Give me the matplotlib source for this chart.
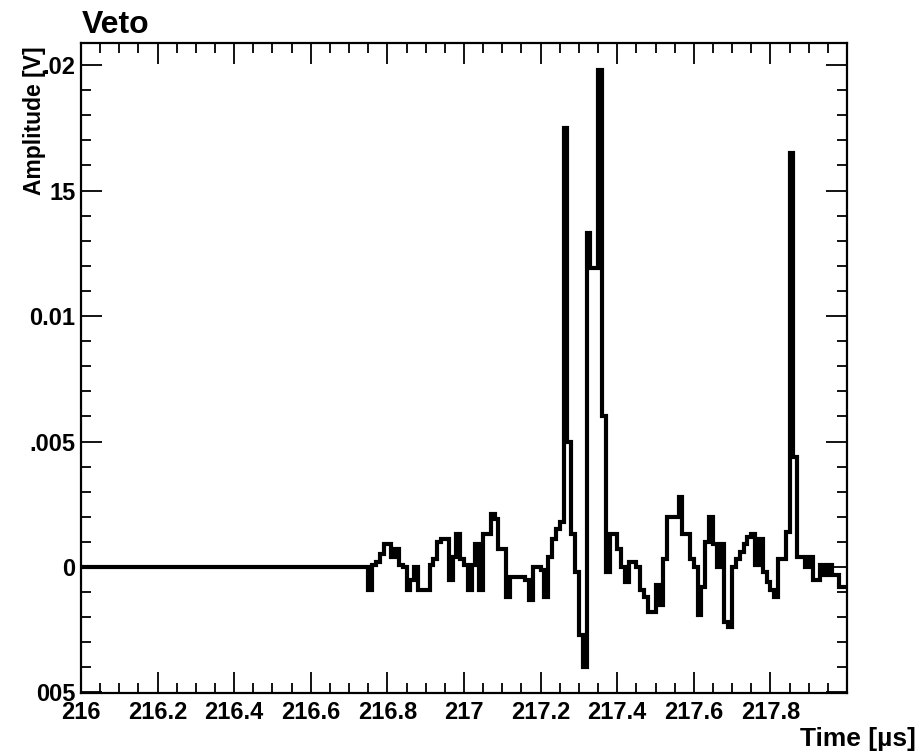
import numpy as np
import matplotlib
matplotlib.use("Agg")
import matplotlib.pyplot as plt
from matplotlib.ticker import MultipleLocator

# Veto channel trace, 0.01 us bins from 216 to 218 us
t_start, t_stop, bin_w = 216.0, 218.0, 0.01
quiet_until = 216.75   # baseline is exactly zero up to here

# amplitude [V] of each bin after quiet_until
amp = [
    -0.0009, 0.0001, 0.0002, 0.0005, 0.0009, 0.0009, 0.0004, 0.0007, 0.0001, 0.0000,
    -0.0009, -0.0005, 0.0000, -0.0009, -0.0009, -0.0009, 0.0001, 0.0003, 0.0010, 0.0011,
    0.0011, -0.0005, 0.0004, 0.0013, 0.0003, 0.0001, -0.0009, 0.0001, 0.0009, -0.0009,
    0.0013, 0.0013, 0.0021, 0.0019, 0.0007, 0.0007, -0.0012, -0.0004, -0.0004, -0.0004,
    -0.0004, -0.0005, -0.0013, 0.0000, 0.0000, -0.0001, -0.0012, 0.0004, 0.0011, 0.0015,
    0.0018, 0.0175, 0.0050, 0.0013, -0.0002, -0.0027, -0.0040, 0.0133, 0.0119, 0.0119,
    0.0198, 0.0060, -0.0002, 0.0013, 0.0013, 0.0007, 0.0000, -0.0006, 0.0002, 0.0002,
    0.0000, -0.0009, -0.0012, -0.0018, -0.0018, -0.0007, -0.0015, 0.0003, 0.0020, 0.0020,
    0.0020, 0.0028, 0.0013, 0.0013, 0.0003, 0.0000, -0.0019, -0.0008, 0.0010, 0.0020,
    0.0009, 0.0000, 0.0009, -0.0022, -0.0024, 0.0000, 0.0003, 0.0006, 0.0009, 0.0012,
    0.0013, 0.0001, 0.0011, -0.0002, -0.0006, -0.0009, -0.0012, 0.0003, 0.0003, 0.0014,
    0.0165, 0.0044, 0.0004, 0.0004, 0.0000, 0.0004, -0.0005, -0.0005, 0.0001, -0.0003,
    0.0001, -0.0003, -0.0003, -0.0008, -0.0008,
]

xticks = [216.0, 216.2, 216.4, 216.6, 216.8, 217.0, 217.2, 217.4, 217.6, 217.8]
xtick_labels = ["216", "216.2", "216.4", "216.6", "216.8", "217", "217.2", "217.4", "217.6", "217.8"]
yticks = [-0.005, 0.0, 0.005, 0.01, 0.015, 0.02]
ytick_labels = ["005", "0", ".005", "0.01", "15", ".02"]

n_quiet = int(round((quiet_until - t_start) / bin_w))
values = np.concatenate((np.zeros(n_quiet), amp))
edges = t_start + bin_w * np.arange(len(values) + 1)

plt.rcParams["font.family"] = ["Liberation Sans", "DejaVu Sans"]
plt.rcParams["font.weight"] = "bold"

fig = plt.figure(figsize=(9.19, 7.54), dpi=100)
ax = fig.add_axes([0.0881, 0.0809, 0.8336, 0.8621])

ax.stairs(values, edges, color="black", linewidth=3.0, baseline=None)

ax.set_xlim(t_start, t_stop)
ax.set_ylim(-0.00502, 0.02088)

ax.set_xticks(xticks)
ax.set_xticklabels(xtick_labels)
ax.set_yticks(yticks)
ax.set_yticklabels(ytick_labels)
ax.xaxis.set_minor_locator(MultipleLocator(0.05))
ax.yaxis.set_minor_locator(MultipleLocator(0.001))

ax.tick_params(which="both", direction="in", top=True, right=True, color="black", width=1.3)
ax.tick_params(which="major", length=15, labelsize=17)
ax.tick_params(which="minor", length=7.5)
ax.tick_params(axis="x", which="major", pad=6)
ax.tick_params(axis="y", which="major", pad=4)
for s in ax.spines.values():
    s.set_linewidth(1.6)

fig.text(0.089, 0.956, "Veto", fontsize=23, fontweight="bold", ha="left", va="baseline")
fig.text(0.037, 0.938, "Amplitude [V]", fontsize=16.5, fontweight="bold",
         rotation=90, ha="center", va="top")
fig.text(0.870, 0.010, "Time [µs]", fontsize=19, fontweight="bold", ha="left", va="baseline")

fig.savefig("out.png", dpi=100)
